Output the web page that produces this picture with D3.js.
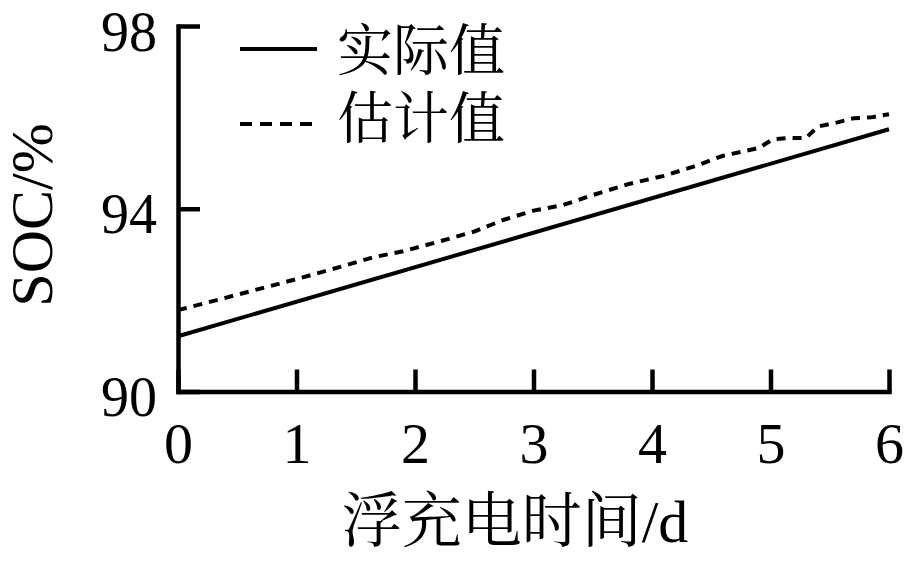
<!DOCTYPE html>
<html>
<head>
<meta charset="utf-8">
<script src="https://cdn.jsdelivr.net/npm/d3@7"></script>
<style>
  html, body { margin: 0; padding: 0; background: #fff; }
  svg { display: block; }
  .num { font-family: "Liberation Serif", "Times New Roman", serif; }
  .cjk { font-family: "Liberation Serif", "Noto Serif CJK SC", "Noto Sans CJK SC", serif; }
</style>
</head>
<body>
<svg id="chart" width="908" height="562"></svg>
<script>
// ---- data ----
const xTicks = [0, 1, 2, 3, 4, 5, 6];
const yTicks = [90, 94, 98];
const seriesNames = ["实际值", "估计值"];
const actualX = [0, 6];
const actualY = [91.21, 95.74];
const estX = [0, 0.4, 1, 1.4, 1.65, 1.9, 2.2, 2.5, 2.75, 3, 3.25, 3.5, 3.8, 4.1, 4.35, 4.6, 4.9, 5.02, 5.15, 5.3, 5.4, 5.55, 5.7, 5.85, 6];
const estY = [91.78, 92.05, 92.46, 92.75, 92.94, 93.07, 93.28, 93.50, 93.76, 93.96, 94.08, 94.30, 94.54, 94.72, 94.92, 95.16, 95.33, 95.52, 95.55, 95.55, 95.80, 95.88, 95.98, 96.00, 96.07];
const xTitle = "浮充电时间/d";
const yTitle = "SOC/%";

// ---- layout ----
const svg = d3.select("#chart");
const x = d3.scaleLinear().domain([0, 6]).range([178, 889]);
const y = d3.scaleLinear().domain([90, 98]).range([391.5, 26]);

const actual = actualX.map((d, i) => [d, actualY[i]]);
const est = estX.map((d, i) => [d, estY[i]]);

const line = d3.line().x(d => x(d[0])).y(d => y(d[1]));

svg.append("path").datum(actual).attr("d", line)
  .attr("fill", "none").attr("stroke", "#000").attr("stroke-width", 4);
svg.append("path").datum(est).attr("d", line)
  .attr("fill", "none").attr("stroke", "#000").attr("stroke-width", 4)
  .attr("stroke-dasharray", "9,7");

// axes
const gx = svg.append("g").attr("transform", `translate(0,${y(90)})`)
  .call(d3.axisBottom(x).tickValues(xTicks).tickFormat(d3.format("d"))
    .tickSizeInner(-22).tickSizeOuter(0).tickPadding(30));
const gy = svg.append("g").attr("transform", `translate(${x(0)},0)`)
  .call(d3.axisLeft(y).tickValues(yTicks).tickFormat(d3.format("d"))
    .tickSizeInner(-22).tickSizeOuter(0).tickPadding(21));

[gx, gy].forEach(g => {
  g.select(".domain").attr("stroke", "#000").attr("stroke-width", 4.5).attr("stroke-linecap", "square");
  g.selectAll(".tick line").attr("stroke", "#000").attr("stroke-width", 4.5);
  g.selectAll(".tick text").attr("class", "num").attr("fill", "#000")
    .style("font-size", "56px").style("font-family", "'Liberation Serif', serif");
});
gx.selectAll(".tick text").style("font-size", "58px");
gy.selectAll(".tick text").attr("dy", "24px");

// axis titles
svg.append("text").attr("class", "cjk")
  .attr("x", 515).attr("y", 522).attr("dominant-baseline", "central")
  .attr("text-anchor", "middle").style("font-size", "60px").text(xTitle);

svg.append("text").attr("class", "num")
  .attr("transform", "translate(32,215) rotate(-90)")
  .attr("dominant-baseline", "central")
  .attr("text-anchor", "middle").style("font-size", "60px").text(yTitle);

// legend
const legendY = [49, 124];
const legendDash = [null, "12,8"];
seriesNames.forEach((name, i) => {
  const l = svg.append("line").attr("x1", 240).attr("x2", 317)
    .attr("y1", legendY[i]).attr("y2", legendY[i])
    .attr("stroke", "#000").attr("stroke-width", 4);
  if (legendDash[i]) l.attr("stroke-dasharray", legendDash[i]);
  svg.append("text").attr("class", "cjk")
    .attr("x", 337).attr("y", legendY[i] + (i === 0 ? 2 : -5))
    .attr("dominant-baseline", "central")
    .style("font-size", "56px").text(name);
});
</script>
</body>
</html>
